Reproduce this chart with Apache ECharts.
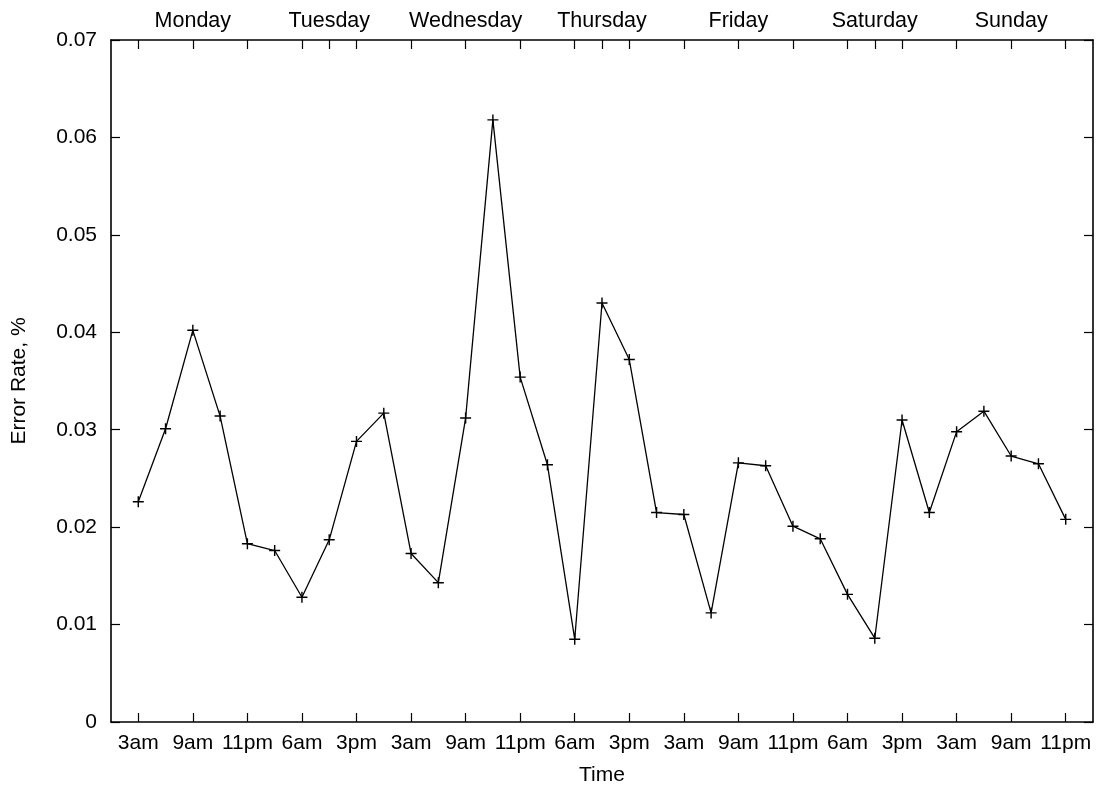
<!DOCTYPE html>
<html>
<head>
<meta charset="utf-8">
<script src="https://cdn.jsdelivr.net/npm/echarts@6/dist/echarts.min.js"></script>
<style>
  html, body { margin: 0; padding: 0; background: #fff; }
  #container { width: 1102px; height: 791px; }
</style>
</head>
<body>
<div id="container"></div>
<script>
// error rate, one point every half tick step
var errorRate = [
    0.0226, 0.0301, 0.0402, 0.0314, 0.0183, 0.0176, 0.0128, 0.0187, 0.0288, 0.0317,
    0.0173, 0.0143, 0.0312, 0.0618, 0.0354, 0.0264, 0.0085, 0.0430, 0.0372, 0.0215,
    0.0213, 0.0112, 0.0266, 0.0263, 0.0201, 0.0188, 0.0131, 0.0086, 0.0310, 0.0215,
    0.0298, 0.0319, 0.0273, 0.0265, 0.0208
];
// bottom tick labels, on every second point
var timeLabels = ['3am', '9am', '11pm', '6am', '3pm', '3am', '9am', '11pm', '6am',
    '3pm', '3am', '9am', '11pm', '6am', '3pm', '3am', '9am', '11pm'];
// top labels, one day per 5 points starting at point 2
var dayLabels = ['Monday', 'Tuesday', 'Wednesday', 'Thursday', 'Friday', 'Saturday', 'Sunday'];

var dayPos = dayLabels.map(function(d, i) { return 2 + i * 5; });
var timePos = timeLabels.map(function(t, i) { return i * 2; });
var topTicks = timePos.concat(dayPos.filter(function(p) { return p % 2 === 1; }));

var font = 'Liberation Sans, Arial, sans-serif';
var axisLineStyle = {color: '#000', width: 1.6};
var tickStyle = {color: '#000', width: 1.2};

var dom = document.getElementById('container');
var myChart = echarts.init(dom);

var option = {
    animation: false,
    grid: {left: 111, right: 9, top: 40, bottom: 68},
    xAxis: [
        {
            type: 'value', position: 'bottom', min: -1, max: 35,
            name: 'Time', nameLocation: 'middle', nameGap: 43,
            nameTextStyle: {color: '#000', fontFamily: font, fontSize: 21},
            axisLine: {onZero: false, lineStyle: axisLineStyle},
            splitLine: {show: false},
            axisTick: {inside: true, length: 9, lineStyle: tickStyle, customValues: timePos},
            axisLabel: {
                color: '#000', fontFamily: font, fontSize: 21, margin: 11,
                customValues: timePos,
                formatter: function(v) { return timeLabels[Math.round(v / 2)]; }
            }
        },
        {
            type: 'value', position: 'top', min: -1, max: 35,
            axisLine: {onZero: false, lineStyle: axisLineStyle},
            splitLine: {show: false},
            axisTick: {inside: true, length: 9, lineStyle: tickStyle, customValues: topTicks},
            axisLabel: {
                color: '#000', fontFamily: font, fontSize: 21.5, margin: 8,
                customValues: dayPos,
                formatter: function(v) { return dayLabels[Math.round((v - 2) / 5)]; }
            }
        }
    ],
    yAxis: [
        {
            type: 'value', position: 'left', min: 0, max: 0.07, interval: 0.01,
            name: 'Error Rate, %', nameLocation: 'middle', nameGap: 81, nameRotate: 90,
            nameTextStyle: {color: '#000', fontFamily: font, fontSize: 21},
            axisLine: {show: true, onZero: false, lineStyle: axisLineStyle},
            splitLine: {show: false},
            axisTick: {show: true, inside: true, length: 9, lineStyle: tickStyle},
            axisLabel: {
                color: '#000', fontFamily: font, fontSize: 21, margin: 14,
                formatter: function(v) { return String(Math.round(v * 100) / 100); }
            }
        },
        {
            type: 'value', position: 'right', min: 0, max: 0.07, interval: 0.01,
            axisLine: {show: true, onZero: false, lineStyle: axisLineStyle},
            splitLine: {show: false},
            axisTick: {show: true, inside: true, length: 9, lineStyle: tickStyle},
            axisLabel: {show: false}
        }
    ],
    series: [
        {
            type: 'line',
            xAxisIndex: 0,
            yAxisIndex: 0,
            data: errorRate.map(function(v, i) { return [i, v]; }),
            symbol: 'path://M0,4.35 H10 V5.65 H0 Z M4.35,0 H5.65 V10 H4.35 Z',
            symbolSize: 11,
            showSymbol: true,
            itemStyle: {color: '#000'},
            lineStyle: {color: '#000', width: 1.3}
        }
    ]
};
myChart.setOption(option, true);
</script>
</body>
</html>
